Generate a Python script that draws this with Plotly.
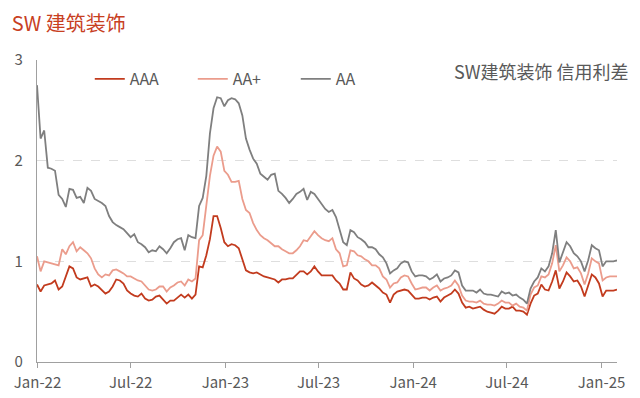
import pandas as pd
import plotly.graph_objects as go

dates = pd.date_range("2021-12-31", periods=162, freq="7D")

aaa = [0.77, 0.70, 0.76, 0.77, 0.78, 0.81, 0.72, 0.75, 0.86, 0.95,
       0.93, 0.84, 0.82, 0.83, 0.84, 0.75, 0.77, 0.75, 0.71, 0.68,
       0.70, 0.75, 0.82, 0.81, 0.78, 0.71, 0.68, 0.66, 0.65, 0.68,
       0.63, 0.61, 0.62, 0.65, 0.66, 0.62, 0.58, 0.61, 0.61, 0.64,
       0.67, 0.64, 0.67, 0.63, 0.67, 0.95, 0.94, 1.06, 1.22, 1.45,
       1.45, 1.33, 1.19, 1.15, 1.17, 1.16, 1.13, 1.02, 0.91, 0.89,
       0.88, 0.89, 0.87, 0.85, 0.84, 0.83, 0.82, 0.79, 0.82, 0.82,
       0.83, 0.83, 0.87, 0.90, 0.90, 0.87, 0.90, 0.95, 0.90, 0.86,
       0.86, 0.86, 0.86, 0.81, 0.78, 0.72, 0.72, 0.89, 0.83, 0.81,
       0.77, 0.75, 0.76, 0.79, 0.76, 0.73, 0.69, 0.67, 0.59, 0.67,
       0.70, 0.71, 0.72, 0.71, 0.67, 0.63, 0.63, 0.64, 0.64, 0.62,
       0.64, 0.65, 0.60, 0.64, 0.66, 0.68, 0.72, 0.68, 0.59, 0.54,
       0.55, 0.53, 0.54, 0.55, 0.52, 0.50, 0.49, 0.48, 0.51, 0.55,
       0.53, 0.53, 0.55, 0.51, 0.51, 0.50, 0.47, 0.58, 0.66, 0.68,
       0.77, 0.72, 0.71, 0.80, 0.91, 0.73, 0.80, 0.89, 0.85, 0.80,
       0.81, 0.75, 0.65, 0.76, 0.87, 0.84, 0.78, 0.65, 0.71, 0.71,
       0.71, 0.72]

aa_plus = [1.05, 0.90, 1.00, 0.99, 0.98, 0.97, 0.96, 1.12, 1.07, 1.15,
           1.19, 1.10, 1.14, 1.11, 1.08, 1.03, 0.93, 0.87, 0.84, 0.87,
           0.86, 0.91, 0.92, 0.90, 0.88, 0.85, 0.85, 0.83, 0.81, 0.80,
           0.76, 0.72, 0.71, 0.72, 0.75, 0.75, 0.70, 0.74, 0.76, 0.79,
           0.80, 0.76, 0.82, 0.80, 0.83, 1.21, 1.26, 1.55, 1.85, 2.05,
           2.14, 2.09, 1.90, 1.86, 1.79, 1.79, 1.80, 1.62, 1.51, 1.48,
           1.38, 1.31, 1.26, 1.23, 1.21, 1.18, 1.15, 1.15, 1.12, 1.10,
           1.08, 1.08, 1.11, 1.15, 1.21, 1.20, 1.25, 1.30, 1.26, 1.23,
           1.21, 1.20, 1.23, 1.12, 1.08, 0.95, 0.96, 1.11, 1.10, 1.06,
           1.05, 1.02, 1.00, 0.96, 0.96, 0.93, 0.85, 0.82, 0.74, 0.78,
           0.79, 0.84, 0.86, 0.85, 0.78, 0.72, 0.73, 0.74, 0.74, 0.71,
           0.74, 0.76, 0.71, 0.73, 0.74, 0.76, 0.81, 0.76, 0.66, 0.61,
           0.60, 0.60, 0.59, 0.61, 0.58, 0.57, 0.57, 0.56, 0.58, 0.61,
           0.59, 0.59, 0.56, 0.58, 0.55, 0.54, 0.51, 0.67, 0.74, 0.76,
           0.85, 0.84, 0.87, 0.98, 1.16, 0.90, 0.96, 1.04, 1.00, 0.93,
           0.94, 0.88, 0.77, 0.88, 1.03, 1.00, 0.98, 0.81, 0.84, 0.85,
           0.85, 0.85]

aa = [2.75, 2.22, 2.30, 1.93, 1.92, 1.90, 1.66, 1.62, 1.54, 1.72,
      1.71, 1.63, 1.64, 1.58, 1.73, 1.70, 1.62, 1.60, 1.58, 1.55,
      1.45, 1.39, 1.36, 1.34, 1.32, 1.28, 1.24, 1.27, 1.19, 1.17,
      1.14, 1.09, 1.11, 1.10, 1.15, 1.12, 1.08, 1.13, 1.19, 1.22,
      1.23, 1.11, 1.26, 1.24, 1.23, 1.55, 1.63, 1.85, 2.27, 2.52,
      2.63, 2.62, 2.54, 2.60, 2.62, 2.61, 2.57, 2.45, 2.22, 2.11,
      2.02, 1.97, 1.87, 1.84, 1.81, 1.86, 1.87, 1.70, 1.67, 1.63,
      1.58, 1.62, 1.67, 1.69, 1.72, 1.61, 1.69, 1.67, 1.62, 1.58,
      1.52, 1.49, 1.51, 1.44, 1.31, 1.19, 1.16, 1.31, 1.29, 1.24,
      1.22, 1.19, 1.14, 1.14, 1.12, 1.07, 1.04, 0.98, 0.88, 0.91,
      0.93, 0.98, 1.00, 0.99, 0.90, 0.85, 0.86, 0.86, 0.85, 0.82,
      0.84, 0.87, 0.80, 0.83, 0.84, 0.86, 0.91, 0.89, 0.76, 0.71,
      0.71, 0.71, 0.69, 0.72, 0.68, 0.67, 0.67, 0.66, 0.65, 0.70,
      0.68, 0.69, 0.66, 0.67, 0.64, 0.62, 0.58, 0.73, 0.80, 0.84,
      0.93, 0.90, 0.95, 1.08, 1.31, 0.99, 1.10, 1.19, 1.15, 1.08,
      1.05, 1.00, 0.90, 1.01, 1.16, 1.13, 1.11, 0.95, 1.00, 1.00,
      1.00, 1.01]

series_names = ["AAA", "AA+", "AA"]
series_colors = ["#c23b1e", "#eb9c8c", "#7f7f7f"]
tick_dates = ["2022-01-01", "2022-07-01", "2023-01-01", "2023-07-01",
              "2024-01-01", "2024-07-01", "2025-01-01"]
tick_labels = ["Jan-22", "Jul-22", "Jan-23", "Jul-23", "Jan-24", "Jul-24", "Jan-25"]

FONT = "Noto Sans CJK SC"
GRAY = "#595959"

fig = go.Figure()
for name, vals, col in zip(series_names, [aaa, aa_plus, aa], series_colors):
    fig.add_trace(go.Scatter(x=dates, y=vals, name=name, mode="lines",
                             line=dict(color=col, width=1.8)))

fig.update_layout(
    width=640, height=398,
    margin=dict(l=29, r=31, t=52, b=44, autoexpand=False),
    paper_bgcolor="white", plot_bgcolor="white",
    font=dict(family=FONT, size=15, color=GRAY),
    showlegend=True,
    legend=dict(orientation="h", x=0.091, y=0.937, xanchor="left", yanchor="middle",
                font=dict(family=FONT, size=16, color=GRAY),
                entrywidth=58, entrywidthmode="pixels",
                bgcolor="rgba(0,0,0,0)", traceorder="normal"),
    title=dict(text="SW 建筑装饰", x=0.006, xanchor="left", y=0.96, yanchor="middle",
               font=dict(family=FONT, size=20, color="#c8401f")),
    annotations=[dict(text="SW建筑装饰 信用利差", xref="paper", yref="paper",
                      x=1.024, y=0.965, xanchor="right", yanchor="middle",
                      showarrow=False, font=dict(family=FONT, size=18, color=GRAY))],
)

fig.update_xaxes(
    range=[dates[0], dates[-1]],
    tickvals=tick_dates, ticktext=tick_labels,
    showgrid=False, showline=True, linecolor="#a0a0a0", linewidth=1.2,
    ticks="outside", ticklen=5, tickcolor="#a0a0a0", ticklabelstandoff=2,
    tickfont=dict(family=FONT, size=15, color=GRAY),
    zeroline=False,
)
fig.update_yaxes(
    range=[0, 3], tickvals=[0, 1, 2, 3],
    showgrid=True, gridcolor="#dedede", griddash="dash", gridwidth=1,
    showline=True, linecolor="#a0a0a0", linewidth=1.2,
    ticks="", ticklabelstandoff=10,
    tickfont=dict(family=FONT, size=15, color=GRAY),
    zeroline=False,
)

fig.write_html("out.html")
